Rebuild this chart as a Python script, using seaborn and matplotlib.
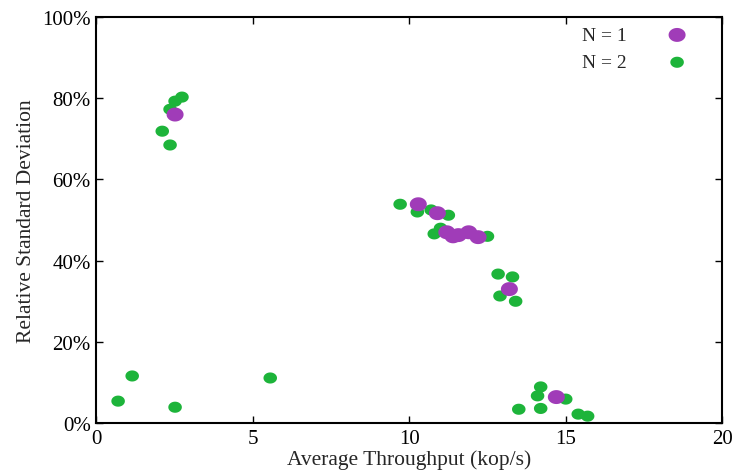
import matplotlib
matplotlib.use("Agg")
import matplotlib.pyplot as plt
import seaborn as sns
import pandas as pd
import numpy as np
from matplotlib.path import Path
from matplotlib.ticker import FuncFormatter

# N = 1 series (throughput kop/s, relative std dev %)
n1_x = [2.52, 10.29, 10.9, 11.2, 11.57, 11.9, 12.2, 11.4, 13.2, 14.7]
n1_y = [76.0, 53.9, 51.7, 47.0, 46.3, 47.0, 45.8, 46.0, 33.0, 6.4]

# N = 2 series
n2_x = [2.74, 2.52, 2.36, 2.11, 2.36, 9.71, 10.26, 10.7, 11.25, 10.8, 11.0, 12.5,
        12.84, 13.3, 12.9, 13.4, 14.2, 14.1, 15.0, 13.5, 14.2, 15.4, 15.7,
        0.7, 1.15, 2.52, 5.56]
n2_y = [80.3, 79.3, 77.3, 71.9, 68.5, 53.9, 52.0, 52.5, 51.2, 46.6, 48.0, 46.0,
        36.7, 36.0, 31.3, 30.0, 8.9, 6.7, 5.9, 3.4, 3.6, 2.2, 1.7,
        5.4, 11.6, 3.9, 11.1]

labels = ["N = 1", "N = 2"]
x_ticks = [0, 5, 10, 15, 20]
y_ticks = [0, 20, 40, 60, 80, 100]

sns.set_theme(style="white")
plt.rcParams["font.family"] = ["Liberation Serif", "DejaVu Serif"]

# slightly wide ellipse marker (reference image is horizontally stretched)
t = np.linspace(0, 2 * np.pi, 60)
ell = Path(np.column_stack([np.cos(t), 0.82 * np.sin(t)]), closed=True)

df1 = pd.DataFrame({"x": n1_x, "y": n1_y})
df2 = pd.DataFrame({"x": n2_x, "y": n2_y})

fig = plt.figure(figsize=(7.4, 4.77), dpi=100)
ax = fig.add_axes([0.13, 0.111, 0.846, 0.851])

sns.scatterplot(data=df2, x="x", y="y", ax=ax, color="#1db43a", s=95,
                marker=ell, edgecolor="none", linewidth=0, label=labels[1], zorder=2)
sns.scatterplot(data=df1, x="x", y="y", ax=ax, color="#a03cb8", s=150,
                marker=ell, edgecolor="none", linewidth=0, label=labels[0], zorder=3)

ax.set_xlim(0, 20)
ax.set_ylim(0, 100)
ax.set_xticks(x_ticks)
ax.set_yticks(y_ticks)
ax.yaxis.set_major_formatter(FuncFormatter(lambda v, p: f"{int(v)}%"))
ax.set_xlabel("Average Throughput (kop/s)", fontsize=15.5, labelpad=1)
ax.set_ylabel("Relative Standard Deviation", fontsize=15.5, labelpad=4)
ax.tick_params(axis="both", which="major", direction="in", length=5, width=1,
               labelsize=15, top=True, right=True, bottom=True, left=True,
               colors="black", pad=4)
for sp in ax.spines.values():
    sp.set_color("black")
    sp.set_linewidth(1.5)

handles, labs = ax.get_legend_handles_labels()
order = [labs.index(labels[0]), labs.index(labels[1])]
ax.legend([handles[i] for i in order], [labs[i] for i in order],
          loc="upper right", frameon=False, markerfirst=False, fontsize=14,
          handletextpad=1.6, borderaxespad=0.6, labelspacing=0.5,
          bbox_to_anchor=(0.99, 1.025))

fig.savefig("out.png", dpi=100)
